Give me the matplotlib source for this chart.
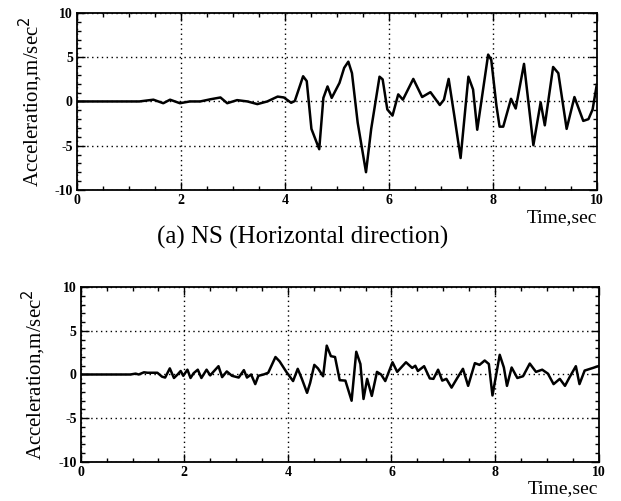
import matplotlib.pyplot as plt
from matplotlib.ticker import MultipleLocator

# NS (horizontal) record
t_ns = [0, 1.2, 1.47, 1.66, 1.79, 1.98, 2.17, 2.37, 2.57, 2.76, 2.89, 3.08, 3.28, 3.47,
        3.66, 3.86, 3.98, 4.12, 4.19, 4.35, 4.42, 4.51, 4.66, 4.74, 4.82, 4.90, 5.05,
        5.14, 5.22, 5.29, 5.40, 5.56, 5.66, 5.82, 5.88, 5.97, 6.07, 6.18, 6.27, 6.47,
        6.64, 6.80, 6.98, 7.06, 7.15, 7.26, 7.38, 7.53, 7.62, 7.70, 7.91, 7.97, 8.07,
        8.13, 8.20, 8.35, 8.44, 8.60, 8.78, 8.92, 9.0, 9.16, 9.26, 9.42, 9.57, 9.74,
        9.84, 9.92, 10.0]
a_ns = [0, 0, 0.2, -0.2, 0.2, -0.2, 0.0, 0.0, 0.25, 0.45, -0.2, 0.15, 0.0, -0.3,
        0.0, 0.55, 0.45, -0.15, 0.05, 2.85, 2.3, -3.1, -5.4, 0.4, 1.7, 0.4, 2.1,
        3.8, 4.5, 3.2, -2.4, -8.0, -3.1, 2.8, 2.5, -0.9, -1.6, 0.8, 0.2, 2.55,
        0.5, 1.05, -0.4, 0.2, 2.55, -1.65, -6.4, 2.8, 1.35, -3.2, 5.3, 4.7, -0.5,
        -2.85, -2.85, 0.3, -0.8, 4.25, -4.95, -0.1, -2.7, 3.9, 3.2, -3.1, 0.5, -2.2,
        -2.0, -0.9, 1.9]

# UD (vertical) record
t_ud = [0, 0.96, 1.06, 1.12, 1.22, 1.29, 1.48, 1.57, 1.63, 1.72, 1.80, 1.87, 1.93,
        1.98, 2.06, 2.12, 2.18, 2.26, 2.33, 2.43, 2.50, 2.56, 2.66, 2.73, 2.82, 2.92,
        3.05, 3.15, 3.21, 3.29, 3.37, 3.43, 3.53, 3.62, 3.76, 3.84, 3.97, 4.10, 4.19,
        4.27, 4.37, 4.43, 4.51, 4.58, 4.68, 4.75, 4.83, 4.91, 5.0, 5.11, 5.23, 5.32,
        5.40, 5.46, 5.53, 5.62, 5.72, 5.80, 5.88, 6.02, 6.11, 6.28, 6.40, 6.46, 6.51,
        6.63, 6.74, 6.81, 6.90, 6.98, 7.06, 7.16, 7.27, 7.38, 7.48, 7.61, 7.70, 7.80,
        7.88, 7.95, 8.09, 8.17, 8.23, 8.32, 8.43, 8.54, 8.67, 8.79, 8.91, 9.02, 9.13,
        9.25, 9.35, 9.44, 9.56, 9.63, 9.73, 9.89, 9.99]
a_ud = [0, 0, 0.1, 0, 0.25, 0.2, 0.2, -0.25, -0.35, 0.7, -0.4, 0, 0.4,
        -0.15, 0.55, -0.4, 0.15, 0.55, -0.4, 0.55, -0.1, 0.3, 0.95, -0.3, 0.35, -0.15,
        -0.35, 0.5, -0.35, 0, -1.1, -0.15, 0, 0.2, 2.0, 1.5, 0.3, -0.75, 0.65,
        -0.5, -2.1, -0.95, 1.1, 0.7, -0.2, 3.3, 2.1, 2.0, -0.65, -0.7, -3.0, 2.6,
        1.2, -2.8, -0.5, -2.45, 0.3, 0.0, -0.75, 1.4, 0.3, 1.4, 0.75, 1.0, 0.4,
        0.95, -0.45, -0.5, 0.55, -0.7, -0.5, -1.5, -0.4, 0.65, -1.3, 1.3, 1.1, 1.6,
        1.2, -2.4, 2.25, 0.8, -1.3, 0.8, -0.4, -0.2, 1.25, 0.3, 0.55, 0.1, -1.1,
        -0.5, -1.3, -0.3, 0.95, -1.1, 0.45, 0.75, 0.95]

plt.rcParams['font.family'] = ['Liberation Serif', 'DejaVu Serif']
plt.rcParams['axes.unicode_minus'] = False

fig = plt.figure(figsize=(6.21, 5.01), dpi=100)
ax1 = fig.add_axes([0.124, 0.621, 0.837, 0.353])
ax2 = fig.add_axes([0.130, 0.078, 0.834, 0.349])


def style(ax):
    ax.set_xlim(0, 10)
    ax.set_ylim(-10, 10)
    ax.set_xticks([0, 2, 4, 6, 8, 10])
    ax.set_yticks([-10, -5, 0, 5, 10])
    ax.xaxis.set_minor_locator(MultipleLocator(0.5))
    ax.yaxis.set_minor_locator(MultipleLocator(1))
    ax.tick_params(which='both', direction='in', top=True, right=True, width=1)
    ax.tick_params(which='major', length=6, labelsize=10, pad=3)
    ax.tick_params(which='minor', length=3)
    for lab in ax.get_xticklabels() + ax.get_yticklabels():
        lab.set_fontweight('bold')
    ax.grid(True, which='major', color='black', linestyle=(0, (1, 2.5)), linewidth=1)
    for sp in ax.spines.values():
        sp.set_linewidth(1.3)
    ax.set_ylabel('Acceleration,m/sec$^2$', fontsize=15, labelpad=7)
    ax.text(1.0, -0.155, 'Time,sec', transform=ax.transAxes, ha='right', va='center',
            fontsize=14)


ax1.plot(t_ns, a_ns, color='black', linewidth=1.8)
ax2.plot(t_ud, a_ud, color='black', linewidth=1.8)
style(ax1)
style(ax2)

fig.text(0.487, 0.527, '(a) NS (Horizontal direction)', ha='center', va='center',
         fontsize=18)

fig.savefig('out.png', dpi=100)
